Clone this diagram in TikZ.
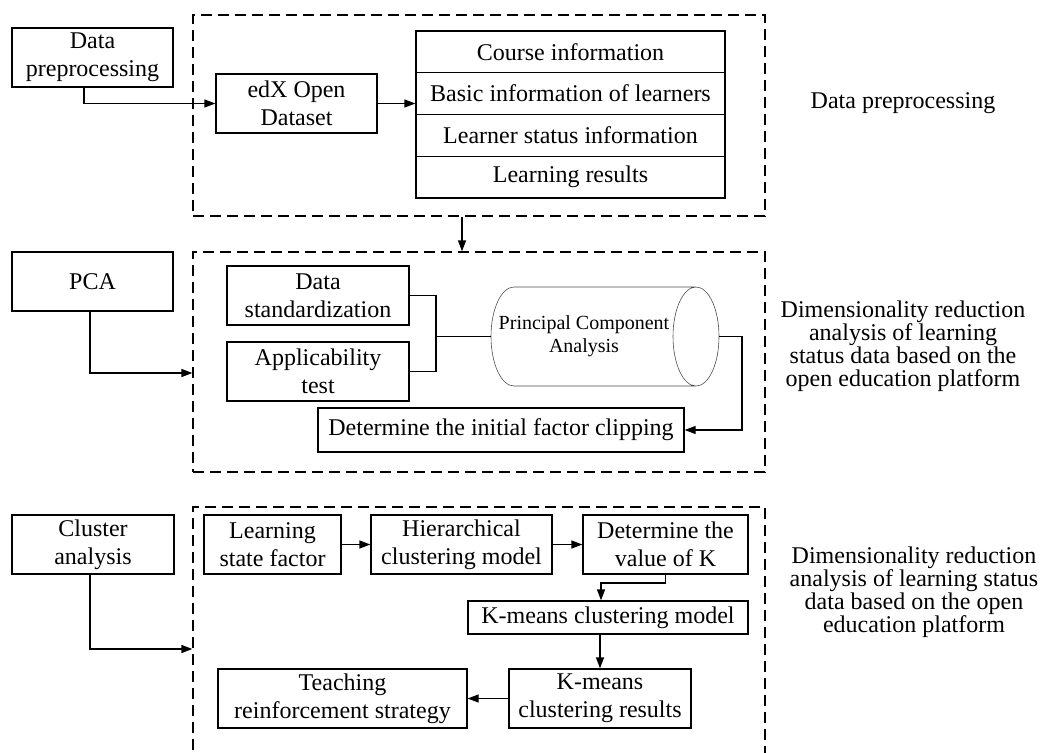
\documentclass[tikz,border=0pt]{standalone}
\usepackage{fontspec}
\setmainfont{Liberation Serif}
\usetikzlibrary{arrows.meta}
\begin{document}
\begin{tikzpicture}[x=1pt,y=-1pt,
  every node/.style={font=\fontsize{24}{28}\selectfont},
  box/.style={draw, line width=1.3pt, inner sep=0pt, align=center},
  dbox/.style={draw, line width=1.3pt, dash pattern=on 11pt off 6pt, inner sep=0pt},
  conn/.style={line width=1.3pt},
  arr/.style={line width=1.3pt, -{Triangle[length=11pt,width=8pt]}},
  side/.style={align=center, font=\fontsize{24}{23}\selectfont},
  rowbox/.style={box, minimum width=309pt, minimum height=41.75pt}
]
\useasboundingbox (0,0) rectangle (1043,752);
% ---------- section 1 ----------
\node[dbox, minimum width=572pt, minimum height=201pt] (dash1) at (479,115.5) {};
\node[box, minimum width=161pt, minimum height=59pt] (dp) at (92.5,57.5) {Data\\preprocessing};
\node[box, minimum width=161pt, minimum height=59pt] (edx) at (296.5,103.5) {edX Open\\Dataset};
\node[rowbox] (r1) at (570.5,51.9) {Course information};
\node[rowbox] (r2) at (570.5,93.6) {Basic information of learners};
\node[rowbox] (r3) at (570.5,135.4) {Learner status information};
\node[rowbox] (r4) at (570.5,177.1) {Learning results};
\node[side] (lab1) at (903,103) {Data preprocessing};
\coordinate (dpx) at (84,0);
\draw[arr] (dp.south -| dpx) |- (edx.west);
\draw[arr] (edx.east) -- (edx.east -| r2.west);
% ---------- section 2 ----------
\node[dbox, minimum width=572pt, minimum height=220pt] (dash2) at (479,362) {};
\coordinate (dx) at (462,0);
\draw[arr] (dash1.south -| dx) -- (dash2.north -| dx);
\node[box, minimum width=161pt, minimum height=59pt] (pcab) at (92.5,281.5) {PCA};
\node[box, minimum width=182pt, minimum height=59pt] (ds) at (318,295.5) {Data\\standardization};
\node[box, minimum width=182pt, minimum height=59pt] (at) at (318,371.5) {Applicability\\test};
\node[inner sep=0pt, minimum width=228pt, minimum height=99pt] (cyl) at (605,336.5) {};
\draw[line width=0.6pt, draw=black!70]
  (514,287) -- (696,287)
  (514,386) -- (696,386)
  (514,287) arc[start angle=270, end angle=90, x radius=23, y radius=49.5]
  (696,336.5) ellipse[x radius=23, y radius=49.5];
\node[font=\fontsize{20}{23}\selectfont, align=center] (cyltext) at (584,336.5) {Principal Component\\Analysis};
\node[box, minimum width=366pt, minimum height=44pt] (det) at (501,430) {Determine the initial factor clipping};
\node[side] (lab2) at (903,346) {Dimensionality reduction\\analysis of learning\\status data based on the\\open education platform};
\coordinate (jx) at (436,0);
\coordinate (rx) at (742,0);
\coordinate (px) at (90,0);
\draw[conn] (ds.east) -| (jx |- at.east) -- (at.east);
\draw[conn] (jx |- cyl.west) -- (cyl.west);
\draw[arr] (cyl.east) -| (rx |- det.east) -- (det.east);
\draw[arr] (pcab.south -| px) |- (dash2.west |- 0,373);
% ---------- section 3 ----------
\begin{scope}
\clip (0,0) rectangle (1043,752);
\node[dbox, minimum width=572pt, minimum height=273pt] (dash3) at (479,643.5) {};
\end{scope}
\node[box, minimum width=162pt, minimum height=59pt] (cl) at (93,544.5) {Cluster\\analysis};
\node[box, minimum width=137pt, minimum height=59pt] (lsf) at (272.5,544.5) {Learning\\state factor};
\node[box, minimum width=181pt, minimum height=59pt] (hier) at (461.5,544.5) {Hierarchical\\clustering model};
\node[box, minimum width=165pt, minimum height=59pt] (detk) at (665.5,544.5) {Determine the\\value of K};
\node[box, minimum width=280pt, minimum height=33pt] (km) at (608,617.5) {K-means clustering model};
\node[box, minimum width=182pt, minimum height=59pt] (kmr) at (600,698.5) {K-means\\clustering results};
\node[box, minimum width=249pt, minimum height=59pt] (trs) at (342.5,698.5) {Teaching\\reinforcement strategy};
\node[side] (lab3) at (914,592.5) {Dimensionality reduction\\analysis of learning status\\data based on the open\\education platform};
\coordinate (kx) at (601,583);
\draw[arr] (cl.south -| px) |- (dash3.west |- 0,649);
\draw[arr] (lsf.east) -- (hier.west);
\draw[arr] (hier.east) -- (detk.west);
\draw[arr] (detk.south) |- (kx) -- (kx |- km.north);
\draw[arr] (km.south -| kmr.north) -- (kmr.north);
\draw[arr] (kmr.west) -- (trs.east);
\end{tikzpicture}
\end{document}
